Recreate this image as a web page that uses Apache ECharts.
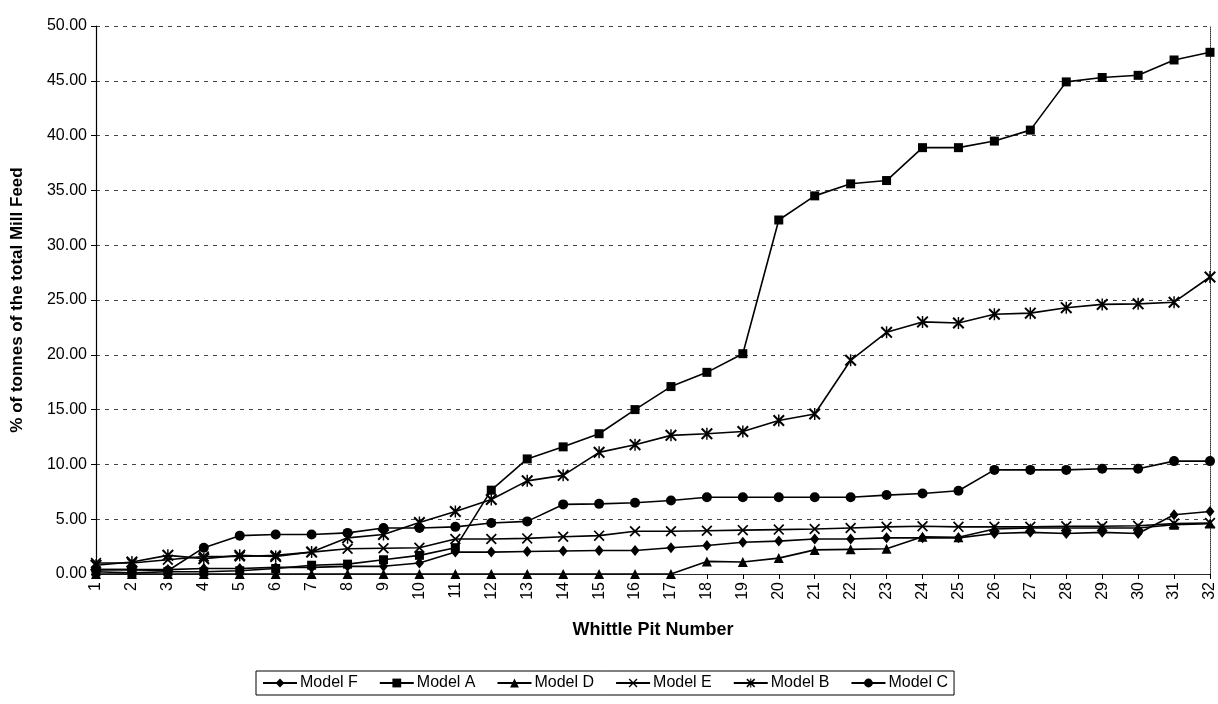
<!DOCTYPE html>
<html>
<head>
<meta charset="utf-8">
<script src="https://cdn.jsdelivr.net/npm/echarts@6/dist/echarts.min.js"></script>
<style>
  html, body { margin: 0; padding: 0; background: #fff; }
  #chart { width: 1218px; height: 704px; }
</style>
</head>
<body>
<div id="chart"></div>
<script>
// Whittle pit numbers along the x axis
const pits = Array.from({ length: 32 }, (_, i) => String(i + 1));

// % of tonnes of the total mill feed, per model
const modelF = [0.4, 0.4, 0.4, 0.5, 0.5, 0.6, 0.6, 0.7, 0.7, 1.0, 2.0, 2.0, 2.05, 2.1, 2.15, 2.15,
                2.4, 2.6, 2.9, 3.0, 3.2, 3.2, 3.3, 3.3, 3.3, 3.7, 3.8, 3.7, 3.8, 3.7, 5.4, 5.7];
const modelA = [0.2, 0.1, 0.2, 0.2, 0.3, 0.5, 0.8, 0.9, 1.3, 1.7, 2.4, 7.65, 10.5, 11.6, 12.8, 15.0,
                17.1, 18.4, 20.1, 32.3, 34.5, 35.6, 35.9, 38.9, 38.9, 39.5, 40.5, 44.9, 45.3, 45.5, 46.9, 47.6];
const modelD = [0, 0, 0, 0, 0, 0, 0, 0, 0, 0, 0, 0, 0, 0, 0, 0,
                0, 1.15, 1.1, 1.45, 2.2, 2.25, 2.3, 3.4, 3.35, 4.1, 4.2, 4.2, 4.2, 4.2, 4.5, 4.6];
const modelE = [1.0, 1.0, 1.3, 1.6, 1.6, 1.7, 2.0, 2.3, 2.35, 2.4, 3.2, 3.2, 3.25, 3.4, 3.5, 3.9,
                3.9, 3.95, 4.0, 4.05, 4.1, 4.2, 4.3, 4.35, 4.3, 4.3, 4.3, 4.35, 4.35, 4.4, 4.6, 4.65];
const modelB = [0.8, 1.1, 1.7, 1.4, 1.7, 1.6, 2.0, 3.3, 3.6, 4.7, 5.7, 6.8, 8.5, 9.0, 11.1, 11.8,
                12.65, 12.8, 13.0, 14.0, 14.6, 19.5, 22.05, 23.0, 22.9, 23.7, 23.8, 24.3, 24.6, 24.65, 24.8, 27.1];
const modelC = [0.4, 0.4, 0.3, 2.4, 3.5, 3.6, 3.6, 3.75, 4.2, 4.2, 4.3, 4.65, 4.8, 6.35, 6.4, 6.5,
                6.7, 7.0, 7.0, 7.0, 7.0, 7.0, 7.2, 7.35, 7.6, 9.5, 9.5, 9.5, 9.6, 9.6, 10.3, 10.3];

// y axis tick values
const yTicks = [0, 5, 10, 15, 20, 25, 30, 35, 40, 45, 50];

const FONT = 'Liberation Sans, Arial, sans-serif';
const INK = '#000';

// marker shapes that ECharts does not ship
const crossPath = 'path://M0,1.1L1.1,0L10,8.9L8.9,10Z M8.9,0L10,1.1L1.1,10L0,8.9Z';
const starPath = 'path://M0,1.2L1.2,0L10,8.8L8.8,10Z M8.8,0L10,1.2L1.2,10L0,8.8Z M4.4,0L5.6,0L5.6,10L4.4,10Z';

function lineSeries(name, data, symbol, size) {
  return {
    name, type: 'line', data, symbol, symbolSize: size,
    showAllSymbol: true,
    lineStyle: { color: INK, width: 1.6 },
    itemStyle: { color: INK, borderColor: INK, borderWidth: 0 },
    emphasis: { disabled: true },
    animation: false
  };
}

const chart = echarts.init(document.getElementById('chart'), null, { renderer: 'canvas' });

chart.setOption({
  backgroundColor: '#fff',
  animation: false,
  textStyle: { fontFamily: FONT, color: INK },
  grid: { left: 96, right: 4, top: 26, bottom: 130, containLabel: false },
  legend: {
    left: 256, top: 671,
    padding: [4, 6], itemGap: 21,
    itemWidth: 34, itemHeight: 11,
    borderColor: INK, borderWidth: 1,
    textStyle: { fontFamily: FONT, fontSize: 16, color: INK, padding: [0, 0, 0, -2] },
    data: ['Model F', 'Model A', 'Model D', 'Model E', 'Model B', 'Model C']
  },
  xAxis: [{
    type: 'category', data: pits, boundaryGap: false,
    name: 'Whittle Pit Number', nameLocation: 'middle', nameGap: 47,
    nameTextStyle: { fontFamily: FONT, fontSize: 18, fontWeight: 'bold', color: INK },
    axisLine: { lineStyle: { color: INK, width: 1.2 } },
    axisTick: { show: true, alignWithLabel: true, length: 5, lineStyle: { color: INK } },
    axisLabel: { rotate: 90, fontSize: 16, color: INK, fontFamily: FONT, margin: 8, interval: 0 },
    splitLine: { show: false }
  }, {
    type: 'category', data: pits, boundaryGap: false, position: 'top',
    axisLine: { lineStyle: { color: '#333', width: 1, type: [1, 1] } },
    axisTick: { show: false }, axisLabel: { show: false }
  }],
  yAxis: [{
    type: 'value', min: yTicks[0], max: yTicks[yTicks.length - 1], interval: 5,
    name: '% of tonnes of the total Mill Feed', nameLocation: 'middle', nameGap: 70,
    nameTextStyle: { fontFamily: FONT, fontSize: 17, fontWeight: 'bold', color: INK },
    axisLine: { show: true, lineStyle: { color: INK, width: 1.2 } },
    axisTick: { show: true, length: 5, lineStyle: { color: INK } },
    axisLabel: { fontSize: 16, color: INK, fontFamily: FONT, margin: 9,
                 formatter: v => v.toFixed(2) },
    splitLine: { show: true, lineStyle: { color: '#444', width: 1, type: [4, 5] } }
  }, {
    type: 'value', min: yTicks[0], max: yTicks[yTicks.length - 1], interval: 5, position: 'right',
    axisLine: { show: true, lineStyle: { color: '#333', width: 1, type: [1, 1] } },
    axisTick: { show: false }, axisLabel: { show: false }, splitLine: { show: false }
  }],
  series: [
    lineSeries('Model F', modelF, 'diamond', [9, 11]),
    lineSeries('Model A', modelA, 'rect', 9),
    lineSeries('Model D', modelD, 'triangle', 10),
    lineSeries('Model E', modelE, crossPath, 11),
    lineSeries('Model B', modelB, starPath, 12),
    lineSeries('Model C', modelC, 'circle', 10)
  ]
});
</script>
</body>
</html>
